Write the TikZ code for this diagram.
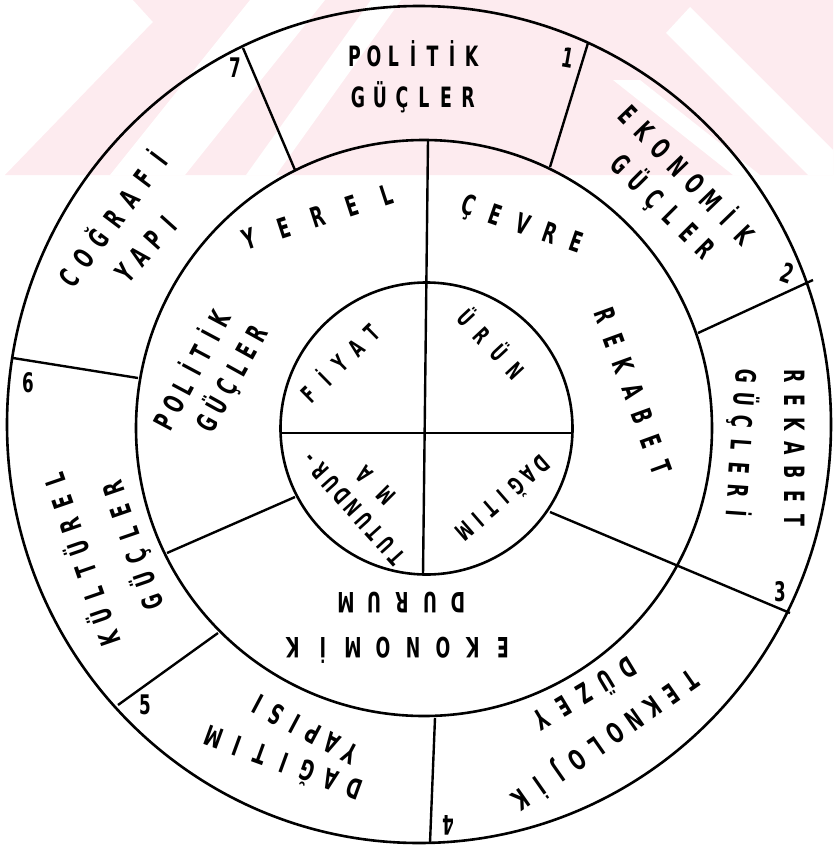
\documentclass[tikz,border=0pt]{standalone}
\usepackage{fontspec}
\newfontfamily\handfont{DejaVu Sans}[FakeStretch=0.62]
\usetikzlibrary{calc}
\definecolor{wmpink}{RGB}{253,235,239}
\makeatletter
% letters at a fixed pitch, as in the hand-lettered original
\newcommand\spread[2]{\@tfor\spreadch:=#2\do{\makebox[#1][c]{\spreadch}}}
\makeatother

\begin{document}
\begin{tikzpicture}[
    x=1pt, y=-1pt,
    ring/.style={line width=2.6pt},
    cut/.style={line width=2.4pt},
    ttl/.style={font=\handfont\bfseries\fontsize{28}{32}\selectfont, inner sep=0pt},
    sml/.style={font=\handfont\bfseries\fontsize{24}{28}\selectfont, inner sep=0pt},
    num/.style={font=\handfont\bfseries\fontsize{27}{30}\selectfont, inner sep=0pt},
  ]
  \useasboundingbox (0,0) rectangle (833,846);

  % faint watermark at the top
  \begin{scope}
    \clip (0,0) rectangle (833,175);
    \fill[wmpink] (5,175) -- (153,22) -- (133,0) -- (833,0) -- (833,175) -- cycle;
    \fill[white] (110,175) -- (250,0) -- (325,0) -- (185,175) -- cycle;
    \fill[white] (246,175) -- (371,0) -- (401,0) -- (276,175) -- cycle;
    \fill[white] (666,33) -- (690,7) -- (858,175) -- (808,175) -- cycle;
    \fill[white] (613,80) -- (640,80) -- (760,175) -- (733,175) -- cycle;
  \end{scope}

  % the three rings
  \coordinate (co) at (419,424.5);
  \coordinate (cm) at (424,428);
  \coordinate (ci) at (426.5,428.5);
  \draw[ring] (co) ellipse [x radius=412, y radius=418.5];
  \draw[ring] (cm) circle [radius=288];
  \draw[ring] (ci) circle [radius=146];

  % end points of the dividers
  \coordinate (vt) at (428,140);
  \coordinate (vb) at (423,575);
  \coordinate (hl) at (281,433);
  \coordinate (hr) at (572,433);
  \coordinate (li) at (295,497);
  \coordinate (lm) at (167,553);
  \coordinate (ri) at (550,512);
  \coordinate (ro) at (790,613);
  \coordinate (s71o) at (243,48);
  \coordinate (s71m) at (295,170);
  \coordinate (s12o) at (588,43);
  \coordinate (s12m) at (550,167);
  \coordinate (s23o) at (813,280);
  \coordinate (s23m) at (698,333);
  \coordinate (s45m) at (435,718);
  \coordinate (s45o) at (430,843);
  \coordinate (s56m) at (218,633);
  \coordinate (s56o) at (118,705);
  \coordinate (s67o) at (13,358);
  \coordinate (s67m) at (138,378);

  \draw[cut] (vt) -- (vb);
  \draw[cut] (hl) -- (hr);
  \draw[cut] (li) -- (lm);
  \draw[cut] (ri) -- (ro);
  \draw[cut] (s71o) -- (s71m);
  \draw[cut] (s12o) -- (s12m);
  \draw[cut] (s23o) -- (s23m);
  \draw[cut] (s45m) -- (s45o);
  \draw[cut] (s56m) -- (s56o);
  \draw[cut] (s67o) -- (s67m);

  % outer ring
  \node[ttl] (o1a) at (413,54) {\spread{19.5pt}{POLİTİK}};
  \node[ttl] (o1b) at (413,97) {\spread{22pt}{GÜÇLER}};
  \node[ttl,rotate=-46] (o2a) at (688,173) {\spread{24pt}{EKONOMİK}};
  \node[ttl,rotate=-45] (o2b) at (663,207) {\spread{24pt}{GÜÇLER}};
  \node[ttl,rotate=-90] (o3a) at (795,448) {\spread{24pt}{REKABET}};
  \node[ttl,rotate=-94] (o3b) at (741,445) {\spread{23pt}{GÜÇLERİ}};
  \node[ttl,rotate=-145] (o4a) at (606,740) {\spread{23pt}{TEKNOLOJİK}};
  \node[ttl,rotate=-149] (o4b) at (586,696) {\spread{25pt}{DÜZEY}};
  \node[ttl,rotate=160] (o5a) at (283,765) {\spread{25pt}{DAĞITIM}};
  \node[ttl,rotate=152] (o5b) at (304,729) {\spread{21pt}{YAPISI}};
  \node[ttl,rotate=109] (o6a) at (80,560) {\spread{24pt}{KÜLTÜREL}};
  \node[ttl,rotate=109] (o6b) at (133,545) {\spread{24pt}{GÜÇLER}};
  \node[ttl,rotate=53] (o7a) at (112,217) {\spread{25pt}{COĞRAFİ}};
  \node[ttl,rotate=48] (o7b) at (147,248) {\spread{22pt}{YAPI}};

  % middle ring
  \node[ttl,rotate=18] (m1) at (318,217) {\spread{36pt}{YEREL}};
  \node[ttl,rotate=-19] (m2) at (522,226) {\spread{28.5pt}{ÇEVRE}};
  \node[ttl,rotate=-70] (m3) at (633,391) {\spread{27pt}{REKABET}};
  \node[ttl,rotate=62] (m4a) at (190,369) {\spread{19.5pt}{POLİTİK}};
  \node[ttl,rotate=61] (m4b) at (232,378) {\spread{20.5pt}{GÜÇLER}};
  \node[ttl,rotate=180] (m5a) at (402,603) {\spread{28pt}{DURUM}};
  \node[ttl,rotate=180] (m5b) at (398,650) {\spread{30pt}{EKONOMİK}};

  % inner circle
  \node[sml,rotate=44.5] (i1) at (339,362) {\spread{22pt}{FİYAT}};
  \node[sml,rotate=-47] (i2) at (492,343) {\spread{24pt}{ÜRÜN}};
  \node[sml,rotate=-139] (i3) at (505,499) {\spread{17pt}{DAĞITIM}};
  \node[sml,rotate=132] (i4a) at (353,508) {\spread{16.5pt}{TUTUNDUR-}};
  \node[sml,rotate=135] (i4b) at (375,485) {\spread{30pt}{MA}};

  % segment numbers
  \node[num,rotate=-10] (n1) at (568,58) {1};
  \node[num,rotate=-20] (n2) at (787,273) {2};
  \node[num] (n3) at (780,592) {3};
  \node[num,rotate=180] (n4) at (448,825) {4};
  \node[num] (n5) at (145,705) {5};
  \node[num] (n6) at (28,383) {6};
  \node[num] (n7) at (235,68) {7};
\end{tikzpicture}
\end{document}
